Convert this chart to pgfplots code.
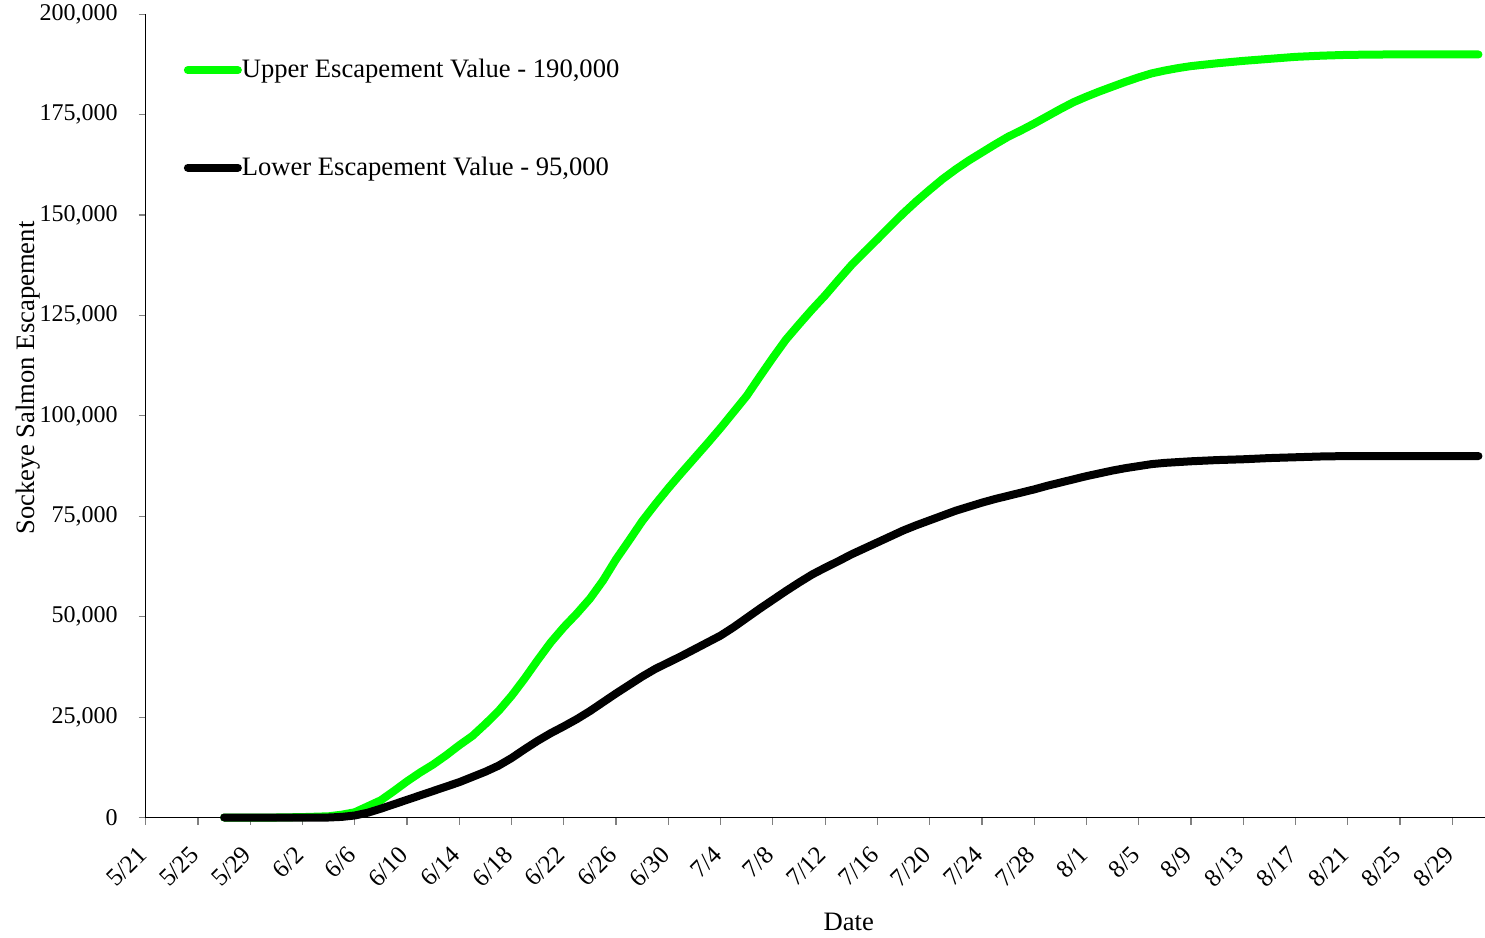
\documentclass[border=0pt]{standalone}
\usepackage{fontspec}
\setmainfont{Liberation Serif}
\usepackage{pgfplots}
\usepackage{pgfplotstable}
\pgfplotsset{compat=1.18}
\definecolor{brightgreen}{RGB}{0,255,0}

\pgfplotstableread{
day val
6 0
8 0
10 0
12 100
14 300
15 700
16 1300
17 2800
18 4300
19 6600
20 9000
21 11200
22 13200
23 15500
24 18000
25 20300
26 23300
27 26500
28 30300
29 34600
30 39200
31 43600
32 47400
33 50800
34 54500
35 59000
36 64300
37 69000
38 73800
39 78000
40 82000
41 85800
42 89500
43 93200
44 97000
45 101000
46 105000
47 109800
48 114500
49 119000
50 122800
51 126500
52 130000
53 133800
54 137500
55 140800
56 144000
57 147300
58 150500
59 153500
60 156300
61 159000
62 161400
63 163600
64 165600
65 167600
66 169500
67 171100
68 172800
69 174600
70 176400
71 178100
72 179500
73 180800
74 182000
75 183200
76 184300
77 185300
78 186000
79 186600
80 187100
82 187800
84 188400
86 188900
88 189400
90 189700
92 189900
95 190000
98 190000
102 190000
}\uppertab

\pgfplotstableread{
day val
6 0
8 0
10 0
12 0
14 0
15 150
16 500
17 1200
18 2200
19 3300
20 4400
21 5500
22 6600
23 7700
24 8800
25 10100
26 11400
27 12900
28 14800
29 17000
30 19100
31 21000
32 22700
33 24500
34 26500
35 28700
36 30900
37 33000
38 35100
39 37000
40 38600
41 40200
42 41900
43 43600
44 45300
45 47400
46 49700
47 52000
48 54200
49 56400
50 58500
51 60500
52 62200
53 63800
54 65500
55 67000
56 68500
57 70000
58 71500
59 72800
60 74000
61 75200
62 76400
63 77400
64 78400
65 79300
66 80100
67 80900
68 81700
69 82600
70 83400
71 84200
72 85000
73 85700
74 86400
75 87000
76 87500
77 88000
78 88300
80 88700
82 89000
84 89200
86 89500
88 89700
90 89900
92 90000
96 90000
102 90000
}\lowertab

\begin{document}
\begin{tikzpicture}
\begin{axis}[
  scale only axis,
  width=669.65bp, height=401.6bp,
  xmin=0, xmax=102.5,
  ymin=0, ymax=200000,
  clip=false,
  axis x line=bottom, axis y line=left,
  axis line style={-, line width=0.6bp, black},
  tick align=outside,
  major tick length=3.5bp,
  tick style={gray, line width=0.6bp},
  xtick={0,4,...,100},
  xticklabels={5/21,5/25,5/29,6/2,6/6,6/10,6/14,6/18,6/22,6/26,6/30,7/4,7/8,7/12,7/16,7/20,7/24,7/28,8/1,8/5,8/9,8/13,8/17,8/21,8/25,8/29},
  xticklabel style={xshift=-1.5bp, yshift=-13bp, rotate=45, anchor=east, inner sep=0pt, font=\fontsize{12.5bp}{14bp}\selectfont},
  ytick={0,25000,50000,75000,100000,125000,150000,175000,200000},
  yticklabels={0,{25,000},{50,000},{75,000},{100,000},{125,000},{150,000},{175,000},{200,000}},
  scaled y ticks=false,
  yticklabel style={inner sep=0pt, xshift=-10.4bp, anchor=east, font=\fontsize{12bp}{14bp}\selectfont},
  xlabel={Date},
  ylabel={Sockeye Salmon Escapement},
  xlabel style={at={(rel axis cs:0.525,0)}, anchor=center, yshift=-52.25bp, font=\fontsize{13.3bp}{16bp}\selectfont},
  ylabel style={at={([xshift=-59bp]rel axis cs:0,0.547)}, anchor=center, font=\fontsize{13.3bp}{16bp}\selectfont},
  legend style={draw=none, fill=none, at={(rel axis cs:0.0285,0.8697)}, anchor=west, inner sep=0pt, outer sep=0pt, row sep=38bp, font=\fontsize{13.3bp}{16bp}\selectfont, nodes={inner sep=0pt}},
  legend cell align=left,
  legend image code/.code={\draw[#1, line cap=round] (2bp,0bp) -- (27bp,0bp);},
]
\addplot[brightgreen, line width=4bp, line join=round, line cap=round] table[x=day, y=val] {\uppertab};
\addlegendentry{Upper Escapement Value - 190,000}
\addplot[black, line width=4bp, line join=round, line cap=round] table[x=day, y=val] {\lowertab};
\addlegendentry{Lower Escapement Value - 95,000}
\end{axis}
\pgfresetboundingbox
\useasboundingbox (-72.85bp,-60.25bp) rectangle (669.65bp,408.75bp);
\end{tikzpicture}
\end{document}
